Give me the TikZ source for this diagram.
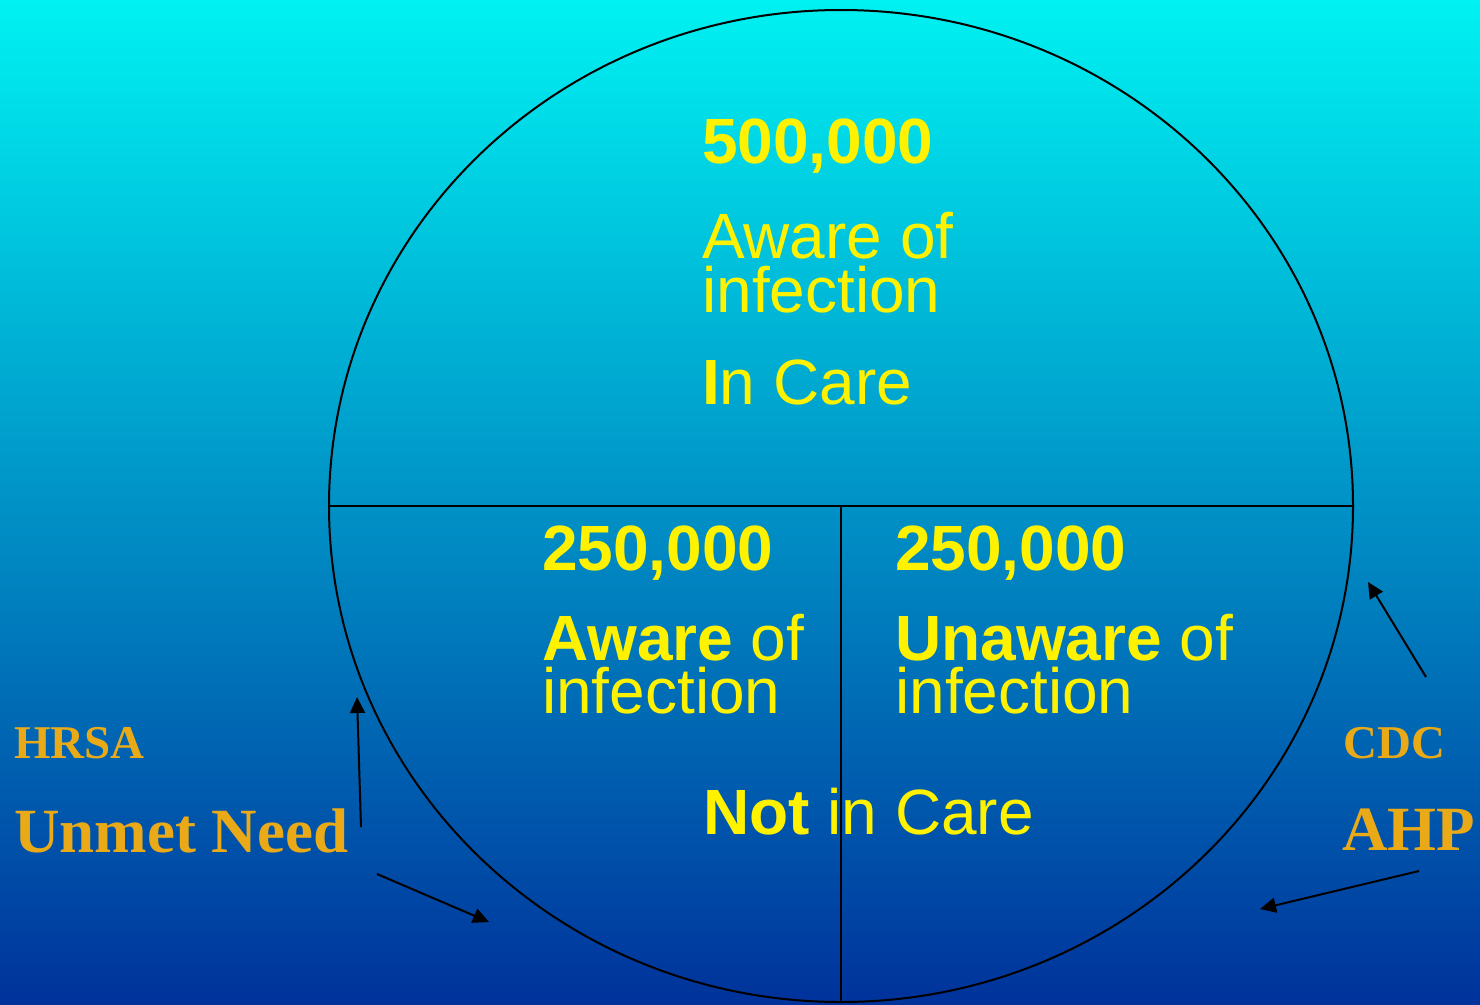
\documentclass[tikz,border=0pt]{standalone}
\usepackage{fontspec}
\setmainfont{Liberation Sans}
\newfontfamily\timesfont{Liberation Serif}
\usetikzlibrary{arrows.meta}

\definecolor{skytop}{RGB}{0,242,242}
\definecolor{skymid}{RGB}{0,155,200}
\definecolor{skybot}{RGB}{0,50,155}
\definecolor{gold}{RGB}{234,170,24}

\tikzset{
  count/.style={anchor=base west, inner sep=0pt, text=yellow, font=\fontsize{64}{64}\selectfont\bfseries},
  txt/.style={anchor=base west, inner sep=0pt, text=yellow, font=\fontsize{64}{64}\selectfont},
  agency/.style={anchor=base west, inner sep=0pt, text=gold, font=\timesfont\fontsize{47}{47}\selectfont\bfseries},
  program/.style={anchor=base west, inner sep=0pt, text=gold, font=\timesfont\fontsize{63}{63}\selectfont\bfseries},
  pointer/.style={black, line width=2pt, -{Triangle[length=16pt,width=15pt]}}
}

\begin{document}
\begin{tikzpicture}[x=1pt, y=-1pt]

  \shade[top color=skytop, middle color=skymid, bottom color=skybot] (0,0) rectangle (1480,1004);
  \useasboundingbox (0,0) rectangle (1480,1004);

  % the pie: upper half and two lower quarters
  \draw[line width=2pt] (841,506) ellipse [x radius=512pt, y radius=496pt];
  \draw[line width=2pt] (329,506) -- (1353,506);
  \draw[line width=2pt] (841,506) -- (841,1002);

  % upper half
  \node[count] (total) at (702,163) {500,000};
  \node[txt] (aware1) at (702,258) {Aware of};
  \node[txt] (infect1) at (702,312) {infection};
  \node[txt] (incare) at (702,404) {\textbf{I}n Care};

  % lower left quarter
  \node[count] (awarenum) at (542,570) {250,000};
  \node[txt] (aware2) at (542,660) {\textbf{Aware} of};
  \node[txt] (infect2) at (542,713) {infection};

  % lower right quarter
  \node[count] (unawarenum) at (895,570) {250,000};
  \node[txt] (unaware) at (895,660) {\textbf{Unaware} of};
  \node[txt] (infect3) at (895,713) {infection};

  \node[txt] (notincare) at (703,834) {\textbf{Not} in Care};

  % agencies
  \node[agency] (hrsa) at (14,758) {HRSA};
  \node[program] (unmet) at (14,852) {Unmet Need};
  \node[agency] (cdc) at (1343,758) {CDC};
  \node[program] (ahp) at (1342,850) {AHP};

  \coordinate (hrsaA) at (361,827);
  \coordinate (hrsaB) at (377,874);
  \coordinate (cdcA) at (1426,677);
  \coordinate (cdcB) at (1419,871);
  \coordinate (leftedge) at (357,697);
  \coordinate (leftbottom) at (489,922);
  \coordinate (rightedge) at (1368,582);
  \coordinate (rightbottom) at (1260,909);

  \draw[pointer] (hrsaA) -- (leftedge);
  \draw[pointer] (hrsaB) -- (leftbottom);
  \draw[pointer] (cdcA) -- (rightedge);
  \draw[pointer] (cdcB) -- (rightbottom);

\end{tikzpicture}
\end{document}
